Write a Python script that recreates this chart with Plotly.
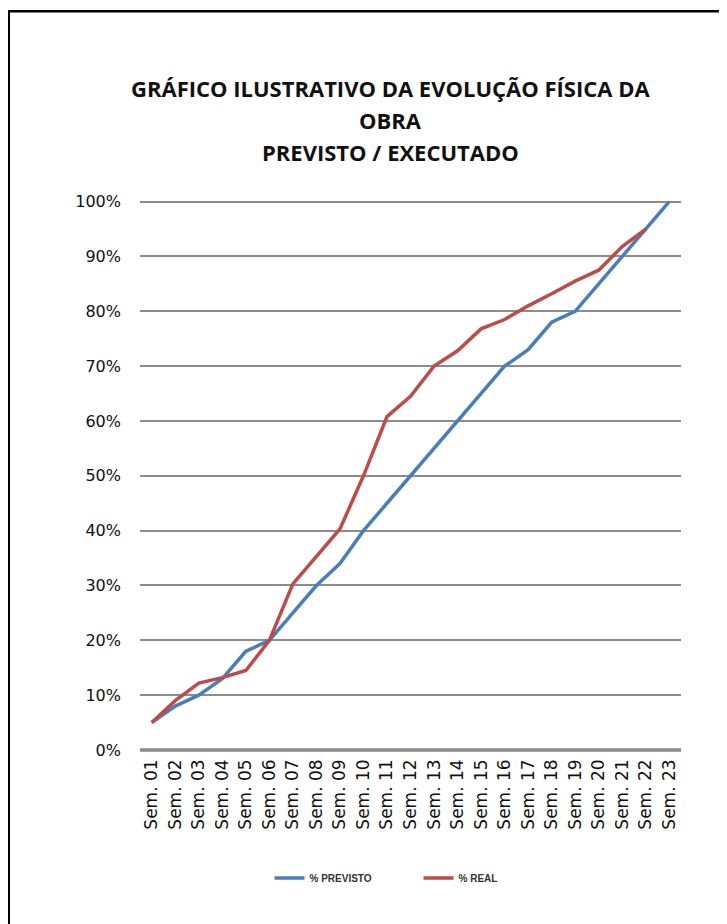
import plotly.graph_objects as go

categories = ["Sem. %02d" % i for i in range(1, 24)]
previsto = [5, 8, 10, 13, 18, 20, 25, 30, 34, 40, 45, 50, 55, 60, 65, 70, 73, 78, 80, 85, 90, 95, 100]
real = [5, 9, 12.2, 13.2, 14.5, 20, 30.3, 35.4, 40.3, 50, 60.8, 64.5, 70, 72.8, 76.8, 78.5, 81, 83.2, 85.5, 87.5, 91.8, 95]
y_ticks = [0, 10, 20, 30, 40, 50, 60, 70, 80, 90, 100]
y_labels = ["%d%%" % v for v in y_ticks]

OFF = 8  # page body margin
W, H = 727 - OFF, 924 - OFF
L, T = 140 - OFF, 200 - OFF
pw, ph = 541, 550
R, B = W - L - pw, H - T - ph

def px(x):
    return (x - OFF - L) / pw

def py(y):
    return (T + ph - (y - OFF)) / ph

fig = go.Figure()
fig.add_trace(go.Scatter(x=categories, y=previsto, mode="lines", name="<b>% PREVISTO</b>",
                         line=dict(color="#4a7ebb", width=3.5)))
fig.add_trace(go.Scatter(x=categories[:len(real)], y=real, mode="lines", name="<b>% REAL</b>",
                         line=dict(color="#be4b48", width=3.5)))

fig.update_layout(
    width=W, height=H,
    margin=dict(l=L, r=R, t=T, b=B, autoexpand=False),
    paper_bgcolor="white", plot_bgcolor="white",
    showlegend=True,
    legend=dict(orientation="h", x=px(276) - 0.012, y=py(878), xanchor="left", yanchor="middle",
                font=dict(family="Liberation Sans", size=10, color="#333"),
                entrywidth=104, entrywidthmode="pixels", tracegroupgap=0),
    xaxis=dict(type="category", range=[-0.5, 22.5], showgrid=False, showline=False,
               tickangle=-90, ticks="", tickfont=dict(family="DejaVu Sans", size=17, color="#111"),
               ticklabelstandoff=5, fixedrange=True),
    yaxis=dict(range=[0, 100.3], tickvals=y_ticks, ticktext=y_labels, showgrid=True,
               gridcolor="#8c8c8c", gridwidth=1.5, zeroline=False, showline=False, ticks="",
               tickfont=dict(family="DejaVu Sans", size=16, color="#111"), ticklabelstandoff=18,
               fixedrange=True),
    shapes=[
        dict(type="line", xref="paper", yref="paper", x0=0, x1=1, y0=0, y1=0,
             line=dict(color="#8a8a8a", width=3.5)),
        dict(type="path", xref="paper", yref="paper",
             path="M %f %f L %f %f L %f %f" % (px(8.75), py(940), px(8.75), py(11.3), px(740), py(11.3)),
             line=dict(color="black", width=2.5)),
    ],
    annotations=[
        dict(text="<b>GRÁFICO ILUSTRATIVO DA EVOLUÇÃO FÍSICA DA</b>", x=px(390), y=py(88),
             xref="paper", yref="paper", showarrow=False, xanchor="center", yanchor="middle",
             font=dict(family="Open Sans", size=22, color="#111")),
        dict(text="<b>OBRA</b>", x=px(390), y=py(120),
             xref="paper", yref="paper", showarrow=False, xanchor="center", yanchor="middle",
             font=dict(family="Open Sans", size=22, color="#111")),
        dict(text="<b>PREVISTO / EXECUTADO</b>", x=px(390), y=py(152),
             xref="paper", yref="paper", showarrow=False, xanchor="center", yanchor="middle",
             font=dict(family="Open Sans", size=22, color="#111")),
    ],
)
fig.write_html("out.html")
